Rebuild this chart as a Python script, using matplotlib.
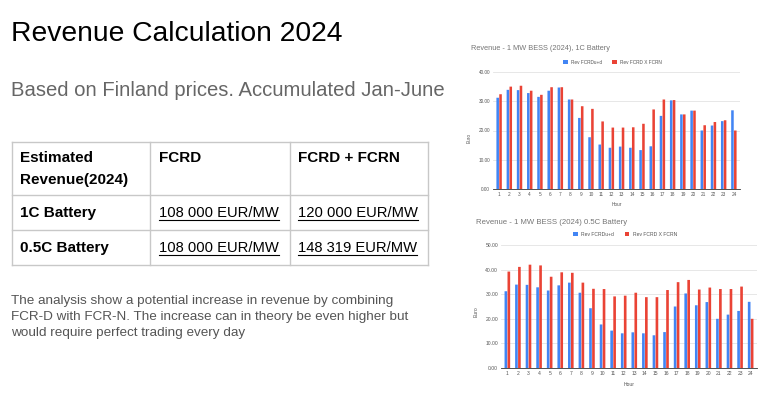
import matplotlib
matplotlib.use("Agg")
import matplotlib.pyplot as plt
from matplotlib.lines import Line2D
import numpy as np

plt.rcParams['font.family'] = ['Liberation Sans', 'DejaVu Sans']

W, H = 768, 399

hours = list(range(1, 25))
fcrd_1c = [31.2, 33.9, 33.8, 32.8, 31.5, 33.6, 34.7, 30.6, 24.3, 17.7, 15.2, 14.1,
           14.5, 14.1, 13.3, 14.6, 25.0, 30.3, 25.5, 26.8, 20.0, 21.7, 23.2, 26.9]
combo_1c = [32.4, 35.0, 35.3, 33.6, 32.2, 34.8, 34.8, 30.6, 28.3, 27.4, 23.1, 21.0,
            21.0, 21.1, 22.3, 27.2, 30.6, 30.4, 25.5, 26.8, 21.8, 22.9, 23.5, 20.0]
fcrd_05c = fcrd_1c
combo_05c = [39.2, 41.1, 42.0, 41.7, 37.1, 38.9, 38.7, 34.7, 32.2, 32.1, 29.1, 29.4,
             30.6, 28.8, 28.8, 31.7, 34.9, 35.8, 31.9, 32.7, 32.1, 32.1, 33.1, 20.0]

series_names = ["Rev FCRDu+d", "Rev FCRD X FCRN"]
table_header = ["Estimated", "Revenue(2024)", "FCRD", "FCRD + FCRN"]
table_rows = [["1C Battery", "108 000 EUR/MW", "120 000 EUR/MW"],
              ["0.5C Battery", "108 000 EUR/MW", "148 319 EUR/MW"]]
body_lines = ["The analysis show a potential increase in revenue by combining",
              "FCR-D with FCR-N. The increase can in theory be even higher but",
              "would require perfect trading every day"]

BLUE = "#4285F4"
RED = "#EA4335"

fig = plt.figure(figsize=(W / 100, H / 100), dpi=100)


def fx(x):
    return x / W


def fy(y):
    return 1 - y / H


# Titles
fig.text(fx(11), fy(34), "Revenue Calculation 2024", fontsize=20.3, color="black",
         va="center", ha="left")
fig.text(fx(11), fy(91), "Based on Finland prices. Accumulated Jan-June", fontsize=14.6,
         color="#666666", va="center", ha="left")

# Table
col_x = [12, 150, 290, 428]
row_y = [142, 195, 230, 265]
for x in col_x:
    fig.add_artist(Line2D([fx(x), fx(x)], [fy(row_y[0]), fy(row_y[-1])], color="#c8c8c8", lw=1))
for y in row_y:
    fig.add_artist(Line2D([fx(col_x[0]), fx(col_x[-1])], [fy(y), fy(y)], color="#c8c8c8", lw=1))

TS = 11
fig.text(fx(20), fy(158), table_header[0], fontsize=TS, weight="bold", va="center")
fig.text(fx(20), fy(180), table_header[1], fontsize=TS, weight="bold", va="center")
fig.text(fx(159), fy(158), table_header[2], fontsize=TS, weight="bold", va="center")
fig.text(fx(298), fy(158), table_header[3], fontsize=TS, weight="bold", va="center")

under_texts = []
for r, yc in zip(table_rows, [213, 248]):
    fig.text(fx(20), fy(yc), r[0], fontsize=TS, weight="bold", va="center")
    t1 = fig.text(fx(159), fy(yc), r[1], fontsize=10.6, va="center")
    t2 = fig.text(fx(298), fy(yc), r[2], fontsize=10.6, va="center")
    under_texts += [t1, t2]

for line, yc in zip(body_lines, [301, 317, 333]):
    fig.text(fx(11), fy(yc), line, fontsize=9.7, color="#555555", va="center", ha="left")


def bar_chart(rect, blue, red, ymax, title, tsize, title_xy, legend_y, euro_xy, hour_y, fs):
    ax = fig.add_axes(rect)
    x = np.array(hours)
    w = 0.25
    off = 0.14
    b1 = ax.bar(x - off, blue, width=w, color=BLUE, label=series_names[0], zorder=3)
    b2 = ax.bar(x + off, red, width=w, color=RED, label=series_names[1], zorder=3)
    for p in list(b1) + list(b2):
        p.set_snap(False)
    ax.set_xlim(0.4, 24.6)
    ax.set_ylim(0, ymax)
    yt = np.arange(0, ymax + 0.1, 10)
    ax.set_yticks(yt)
    ax.set_yticklabels([f"{v:.2f}" for v in yt])
    ax.set_xticks(x)
    ax.tick_params(axis="both", labelsize=fs, colors="#555555", length=0, pad=2)
    ax.grid(axis="y", color="#e3e3e3", lw=0.6, zorder=0)
    for s in ["top", "right", "left"]:
        ax.spines[s].set_visible(False)
    ax.spines["bottom"].set_color("#333333")
    ax.spines["bottom"].set_linewidth(0.6)
    ax.spines["bottom"].set_zorder(4)
    fig.text(fx(title_xy[0]), fy(title_xy[1]), title, fontsize=tsize, color="#757575",
             va="center", ha="left")
    fig.text(fx(euro_xy[0]), fy(euro_xy[1]), "Euro", fontsize=fs, color="#555555",
             rotation=90, va="center", ha="center")
    fig.text((rect[0] + rect[2] / 2), fy(hour_y), "Hour", fontsize=fs, color="#555555",
             va="center", ha="center")
    leg = ax.legend(loc="center", bbox_to_anchor=(rect[0] + rect[2] / 2 - 0.005, fy(legend_y)),
                    bbox_transform=fig.transFigure, ncol=2, frameon=False,
                    fontsize=fs, handlelength=0.9, handleheight=0.9, columnspacing=2.2,
                    handletextpad=0.7, borderpad=0)
    for t in leg.get_texts():
        t.set_color("#555555")
    return ax


ax1 = bar_chart([fx(493), fy(189), fx(740) - fx(493), fy(72) - fy(189)],
                fcrd_1c, combo_1c, 40, "Revenue - 1 MW BESS (2024), 1C Battery", 5.3,
                (471, 49), 62, (469, 138), 205, 3.4)
ax2 = bar_chart([fx(501), fy(368), fx(757) - fx(501), fy(245) - fy(368)],
                fcrd_05c, combo_05c, 50, "Revenue - 1 MW BESS (2024) 0.5C Battery", 5.6,
                (476, 223), 234, (476, 312), 384, 3.6)

# underline table values
fig.canvas.draw()
r = fig.canvas.get_renderer()
for t in under_texts:
    bb = t.get_window_extent(r)
    y = bb.y0 - 0.3
    fig.add_artist(Line2D([bb.x0 / W, bb.x1 / W], [y / H, y / H], color="black", lw=0.8))

fig.savefig("out.png", dpi=100)
